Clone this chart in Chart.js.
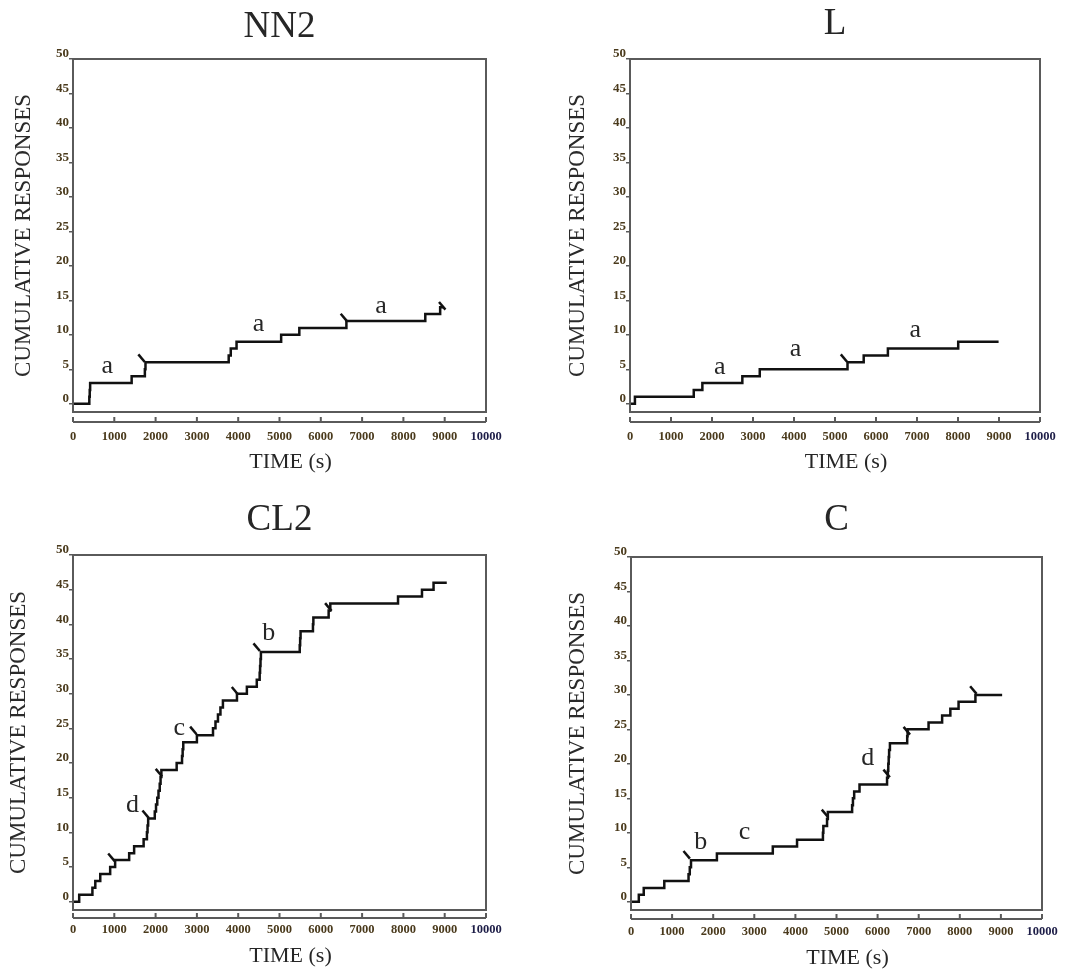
<!DOCTYPE html>
<html>
<head>
<meta charset="utf-8">
<title>Cumulative responses</title>
<script src="https://cdn.jsdelivr.net/npm/chart.js@4.4.1/dist/chart.umd.min.js"></script>
<style>
  body { margin: 0; background: #fff; }
  #wrap { position: relative; width: 1083px; height: 972px; }
  canvas { position: absolute; }
</style>
</head>
<body>
<div id="wrap">
  <canvas id="nn2" width="540" height="480" style="left:0;top:0"></canvas>
  <canvas id="l" width="543" height="480" style="left:540px;top:0"></canvas>
  <canvas id="cl2" width="540" height="492" style="left:0;top:480px"></canvas>
  <canvas id="c" width="543" height="492" style="left:540px;top:480px"></canvas>
</div>
<script>
// axis ticks
const timeTicks = [0, 1000, 2000, 3000, 4000, 5000, 6000, 7000, 8000, 9000, 10000];
const responseTicks = [0, 5, 10, 15, 20, 25, 30, 35, 40, 45, 50];

// NN2
const nn2Times = [0, 395, 405, 415, 1420, 1740, 1755, 3770, 3820, 3960, 5040, 5480, 6620, 8530, 8890, 8970];
const nn2Counts = [0, 1, 2, 3, 4, 5, 6, 7, 8, 9, 10, 11, 12, 13, 14, 14];
const nn2MarkTimes = [1660, 6560, 8940];
const nn2MarkCounts = [6.6, 12.5, 14.2];
const nn2Letters = ['a', 'a', 'a'];
const nn2LetterTimes = [830, 4490, 7460];
const nn2LetterCounts = [5.3, 11.4, 14.0];

// L
const lTimes = [0, 120, 1555, 1765, 2740, 3165, 5305, 5700, 6290, 8005, 8990];
const lCounts = [0, 1, 2, 3, 4, 5, 6, 7, 8, 9, 9];
const lMarkTimes = [5220];
const lMarkCounts = [6.6];
const lLetters = ['a', 'a', 'a'];
const lLetterTimes = [2190, 4040, 6960];
const lLetterCounts = [5.2, 7.8, 10.6];

// CL2
const cl2Times = [0, 150, 470, 540, 660, 900, 1020, 1360, 1480, 1710, 1790, 1805, 1820, 1980, 2010,
  2040, 2070, 2100, 2120, 2140, 2510, 2640, 2655, 2670, 3000, 3390, 3450, 3510, 3570, 3630, 3970,
  4210, 4450, 4520, 4530, 4540, 4550, 5490, 5500, 5510, 5810, 5820, 6190, 6230, 7870, 8450, 8730, 9050];
const cl2Counts = [0, 1, 2, 3, 4, 5, 6, 7, 8, 9, 10, 11, 12, 13, 14,
  15, 16, 17, 18, 19, 20, 21, 22, 23, 24, 25, 26, 27, 28, 29, 30,
  31, 32, 33, 34, 35, 36, 37, 38, 39, 40, 41, 42, 43, 44, 45, 46, 46];
const cl2MarkTimes = [930, 1760, 2080, 2914, 3923, 4447, 6182];
const cl2MarkCounts = [6.4, 12.6, 18.6, 24.7, 30.4, 36.7, 42.5];
const cl2Letters = ['d', 'c', 'b'];
const cl2LetterTimes = [1440, 2575, 4740];
const cl2LetterCounts = [14.1, 24.9, 38.9];

// C
const cTimes = [0, 190, 310, 810, 1400, 1430, 1460, 2090, 3450, 4040, 4670, 4680, 4770, 4790, 5380,
  5400, 5430, 5560, 6230, 6250, 6260, 6270, 6280, 6300, 6720, 6730, 7240, 7570, 7770, 7970, 8380, 9030];
const cCounts = [0, 1, 2, 3, 4, 5, 6, 7, 8, 9, 10, 11, 12, 13, 14,
  15, 16, 17, 18, 19, 20, 21, 22, 23, 24, 25, 26, 27, 28, 29, 30, 30];
const cMarkTimes = [1355, 4720, 6220, 6710, 8330];
const cMarkCounts = [6.8, 12.8, 18.6, 24.8, 30.7];
const cLetters = ['b', 'c', 'd'];
const cLetterTimes = [1700, 2760, 5760];
const cLetterCounts = [8.9, 9.9, 21.0];

const serif = '"Liberation Serif", "Times New Roman", serif';
Chart.defaults.font.family = serif;

// box, separate time axis, titles and letters
const panelDecor = {
  id: 'panelDecor',
  afterDraw(chart, args, opts) {
    const { ctx, chartArea: a, scales } = chart;
    const xs = scales.x, ys = scales.y;
    ctx.save();
    ctx.strokeStyle = '#5a5a5a';
    ctx.lineWidth = 2;
    ctx.strokeRect(a.left, a.top, a.right - a.left, a.bottom - a.top);

    // time axis sits a little below the frame
    const ay = a.bottom + opts.axisGap;
    ctx.beginPath();
    ctx.moveTo(xs.getPixelForValue(timeTicks[0]), ay);
    ctx.lineTo(xs.getPixelForValue(timeTicks[timeTicks.length - 1]), ay);
    timeTicks.forEach(v => {
      const px = xs.getPixelForValue(v);
      ctx.moveTo(px, ay);
      ctx.lineTo(px, ay - 5);
    });
    ctx.stroke();

    const cx = (a.left + a.right) / 2;
    ctx.fillStyle = '#262626';
    ctx.textAlign = 'center';
    ctx.textBaseline = 'middle';
    ctx.font = '37px ' + serif;
    ctx.fillText(opts.title, cx, opts.titleY);
    ctx.font = '22px ' + serif;
    ctx.fillText('TIME (s)', cx + 11, opts.xTitleY);

    ctx.font = '26px ' + serif;
    ctx.textBaseline = 'alphabetic';
    opts.letters.forEach((txt, i) => {
      const m = ctx.measureText(txt);
      const px = xs.getPixelForValue(opts.letterTimes[i]);
      const py = ys.getPixelForValue(opts.letterCounts[i]);
      ctx.fillText(txt, px, py + m.actualBoundingBoxAscent / 2);
    });
    ctx.restore();
  }
};

function tickFont(size) {
  return { family: serif, size: size, weight: 'bold' };
}

function makePanel(id, p) {
  const line = p.times.map((t, i) => ({ x: t, y: p.counts[i] }));
  const marks = p.markTimes.map((t, i) => ({ x: t, y: p.markCounts[i] }));
  new Chart(document.getElementById(id), {
    type: 'line',
    data: {
      datasets: [{
        data: line,
        stepped: 'before',
        borderColor: '#111',
        borderWidth: 2.5,
        pointRadius: 0,
        fill: false
      }, {
        type: 'scatter',
        data: marks,
        showLine: false,
        pointStyle: 'line',
        pointRadius: 5,
        pointRotation: 50,
        pointBorderWidth: 2.5,
        pointBorderColor: '#111',
        borderColor: '#111'
      }]
    },
    plugins: [panelDecor],
    options: {
      responsive: false,
      animation: false,
      layout: { padding: { top: p.top, right: p.right, bottom: 0, left: 0 } },
      scales: {
        x: {
          type: 'linear',
          min: 0,
          max: 10000,
          afterBuildTicks: axis => { axis.ticks = timeTicks.map(v => ({ value: v })); },
          afterFit: scale => { scale.height = p.xHeight; },
          grid: { display: false, drawTicks: false },
          border: { display: false },
          ticks: {
            autoSkip: false,
            maxRotation: 0,
            padding: p.xLabelPad,
            font: tickFont(12.5),
            callback: v => String(v),
            color: c => c.tick && c.tick.value === 10000 ? '#1e1e48' : '#4a3a1c'
          }
        },
        y: {
          min: -1.2,
          max: 50,
          afterBuildTicks: axis => { axis.ticks = responseTicks.map(v => ({ value: v })); },
          afterFit: scale => { scale.width = p.left; },
          grid: { drawOnChartArea: false, drawTicks: true, tickLength: 4, color: '#5a5a5a', lineWidth: 1.5 },
          border: { display: false },
          ticks: {
            padding: 0,
            labelOffset: -5,
            font: tickFont(13),
            color: '#4a3a1c'
          },
          title: {
            display: true,
            text: 'CUMULATIVE RESPONSES',
            color: '#2a2a2a',
            font: { family: serif, size: 23 },
            padding: { top: p.yTitlePad, bottom: 0 }
          }
        }
      },
      plugins: {
        legend: { display: false },
        tooltip: { enabled: false },
        panelDecor: {
          title: p.title,
          titleY: p.titleY,
          xTitleY: p.xTitleY,
          axisGap: p.axisGap,
          letters: p.letters,
          letterTimes: p.letterTimes,
          letterCounts: p.letterCounts
        }
      }
    }
  });
}

makePanel('nn2', {
  title: 'NN2', times: nn2Times, counts: nn2Counts,
  markTimes: nn2MarkTimes, markCounts: nn2MarkCounts,
  letters: nn2Letters, letterTimes: nn2LetterTimes, letterCounts: nn2LetterCounts,
  left: 73, right: 54, top: 59, xHeight: 68, axisGap: 10, xLabelPad: 17,
  yTitlePad: 10, titleY: 27, xTitleY: 462
});

makePanel('l', {
  title: 'L', times: lTimes, counts: lCounts,
  markTimes: lMarkTimes, markCounts: lMarkCounts,
  letters: lLetters, letterTimes: lLetterTimes, letterCounts: lLetterCounts,
  left: 90, right: 43, top: 59, xHeight: 68, axisGap: 10, xLabelPad: 17,
  yTitlePad: 24, titleY: 24, xTitleY: 462
});

makePanel('cl2', {
  title: 'CL2', times: cl2Times, counts: cl2Counts,
  markTimes: cl2MarkTimes, markCounts: cl2MarkCounts,
  letters: cl2Letters, letterTimes: cl2LetterTimes, letterCounts: cl2LetterCounts,
  left: 73, right: 54, top: 75, xHeight: 62, axisGap: 8, xLabelPad: 12,
  yTitlePad: 5, titleY: 40, xTitleY: 476
});

makePanel('c', {
  title: 'C', times: cTimes, counts: cCounts,
  markTimes: cMarkTimes, markCounts: cMarkCounts,
  letters: cLetters, letterTimes: cLetterTimes, letterCounts: cLetterCounts,
  left: 91, right: 41, top: 77, xHeight: 62, axisGap: 9, xLabelPad: 14,
  yTitlePad: 24, titleY: 40, xTitleY: 478
});
</script>
</body>
</html>
